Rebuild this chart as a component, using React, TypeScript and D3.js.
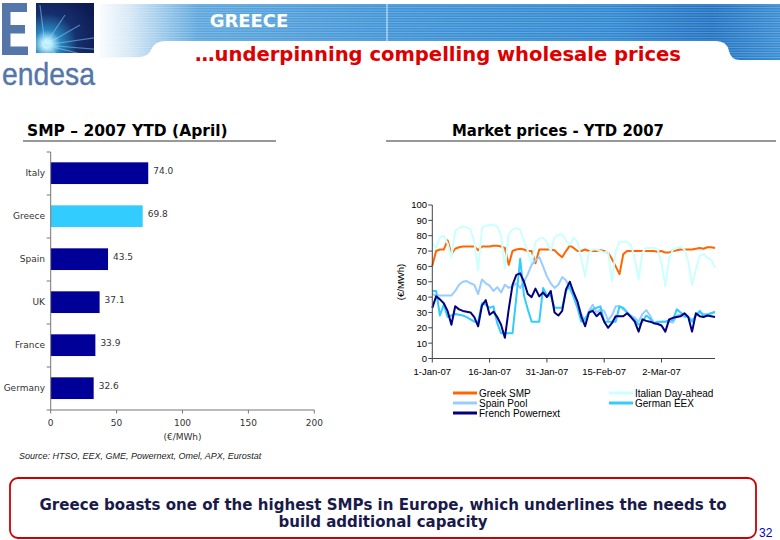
import React from "react";
import * as d3 from "d3";

// ---------- DATA ----------
const barCategories = ["Italy", "Greece", "Spain", "UK", "France", "Germany"];
const barValues = [74.0, 69.8, 43.5, 37.1, 33.9, 32.6];
const barHighlight = "Greece";
const barTicks = [0, 50, 100, 150, 200];

const firstDay = "2007-01-01";
const lastDay = "2007-03-16";
const dateTicks = ["2007-01-01", "2007-01-16", "2007-01-31", "2007-02-15", "2007-03-02"];
const priceTicks = [0, 10, 20, 30, 40, 50, 60, 70, 80, 90, 100];

const greekSMP = [
  60.5, 70, 71, 71, 77, 68, 71.5, 72.5, 73, 73,
  73, 73, 70.5, 73, 73, 73, 73.5, 73.5, 73, 72,
  61, 70, 71, 71.5, 71, 70, 70, 62, 71, 71,
  71, 71, 70.5, 68, 66, 70, 73.5, 72, 70, 70,
  71, 70, 70, 70, 70.5, 70, 69, 65, 60, 55,
  68, 70, 70, 70, 70, 70, 70, 70, 70, 69.5,
  70, 69, 69, 70, 70.5, 71, 71, 71, 71, 71.5,
  72, 71.5, 72.5, 72.5, 72,
];
const italianDayAhead = [
  75, 72, 79, 80, 75, 66, 83, 85, 86, 85.5,
  84, 76, 57.5, 85, 86.5, 87, 87, 86, 80, 58.5,
  81, 84, 85, 84, 77, 70, 61, 76, 78, 78.5,
  76, 70, 79, 80.5, 81, 77, 74, 79, 76, 65,
  53.5, 69, 71, 71, 70, 69, 70, 50, 70, 76,
  76, 76, 74, 65, 51.5, 69, 72, 72, 72, 71,
  62, 47, 65, 71, 72, 73, 71, 63, 48, 58,
  67, 68, 65.5, 64.5, 59,
];
const spainPool = [
  42, 41, 41, 41, 41, 41, 44, 48, 50, 50.5,
  49, 48, 42, 51.5, 49, 47.5, 44, 46.5, 43, 48,
  46, 47, 49, 46, 50, 55, 61, 64, 66, 60,
  53.5, 49, 46, 48, 53, 51, 45, 41, 37, 29,
  24, 31, 35, 30, 32, 31, 25, 28, 34, 34,
  32, 30, 28, 26.5, 24, 29, 31.5, 28, 23, 23,
  24, 24, 24, 23.5, 28, 28.5, 27, 27, 25, 28,
  30, 29, 29, 29.5, 30,
];
const germanEEX = [
  44, 44, 28, 35, 27, 28, 29, 28.5, 28, 27,
  25.5, 24, 24, 36, 35, 33, 34, 23, 16.5, 16.5,
  16.5, 16.5, 40, 65, 41, 32, 24, 24, 24, 46,
  41, 41, 33, 33, 33, 44, 47, 40, 33, 24,
  26, 30, 32, 33, 34, 24, 24, 24, 24, 34,
  33, 30, 27, 25, 22, 24, 28, 26, 23, 24,
  24, 24, 25, 25, 32, 30, 28, 27, 24, 28,
  31, 28, 28, 29.5, 30.5,
];
const frenchPowernext = [
  33, 40.5, 38.5, 36, 31, 22, 34, 32, 31, 30.5,
  30, 27, 21, 34.5, 38, 28.5, 30.5, 27, 22, 13.5,
  32, 48, 54.5, 55.5, 50, 42, 40, 45.5, 40.5, 43,
  40, 44, 30, 28, 31, 45, 50, 43, 37, 27.5,
  21, 30, 31, 27.5, 30, 24, 20, 23, 27.5, 27.5,
  27.5, 29.5, 27, 24, 17.5, 25.5, 24.5, 24, 23, 22.5,
  21.5, 17.5, 25.5, 26.5, 27, 27.5, 29.5, 27, 17.5, 29.5,
  27.5, 27, 28, 27.5, 27,
];

const seriesNames = ["Greek SMP", "Italian Day-ahead", "Spain Pool", "German EEX", "French Powernext"];
const seriesValues = [greekSMP, italianDayAhead, spainPool, germanEEX, frenchPowernext];
const seriesColors = ["#FF6600", "#CCFFFF", "#99CCFF", "#33CCFF", "#000080"];

// ---------- COMPONENT ----------
const VERDANA = "'DejaVu Sans', Verdana, sans-serif";
const ARIAL = "'Liberation Sans', Arial, sans-serif";

export default function App() {
  const parse = d3.timeParse("%Y-%m-%d");
  const d0 = parse(firstDay) as Date;
  const d1 = parse(lastDay) as Date;
  const fmt = d3.timeFormat("%-d-%b-%y");

  // bar chart scales
  const bx = d3.scaleLinear().domain([0, 200]).range([50.7, 314.3]);
  const by = d3.scaleBand<string>().domain(barCategories).range([152, 410]).padding(0);
  const step = by.step();

  // line chart scales
  const lx = d3.scaleTime().domain([d0, d1]).range([432.3, 715]);
  const ly = d3.scaleLinear().domain([0, 100]).range([358.5, 205]);
  const line = (vals: number[]) =>
    d3
      .line<number>()
      .x((_, i) => lx(d3.timeDay.offset(d0, i)))
      .y((v) => ly(v))(vals) as string;

  const legendPos = [
    { x: 453, y: 393 },
    { x: 609, y: 393 },
    { x: 453, y: 403 },
    { x: 609, y: 403 },
    { x: 453, y: 413 },
  ];

  const stripes: number[] = d3.range(5, 60, 2.5);
  const rays = [
    [20, -30], [35, -20], [55, -8], [60, 5], [-5, -40], [40, 10], [25, 20],
  ];

  return (
    <svg
      width={780}
      height={540}
      style={{ position: "absolute", left: 0, top: 0, background: "#fff" }}
      xmlns="http://www.w3.org/2000/svg"
    >
      <defs>
        <linearGradient id="banner" gradientUnits="userSpaceOnUse" x1={95} y1={0} x2={780} y2={0}>
          <stop offset="0" stopColor="#ffffff" />
          <stop offset="0.05" stopColor="#d6e8f6" />
          <stop offset="0.15" stopColor="#5ea7dd" />
          <stop offset="0.45" stopColor="#3f93d6" />
          <stop offset="0.75" stopColor="#3189d1" />
          <stop offset="0.9" stopColor="#2272c2" />
          <stop offset="1" stopColor="#3a8ed2" />
        </linearGradient>
        <radialGradient id="burst" gradientUnits="userSpaceOnUse" cx={47} cy={44} r={55}>
          <stop offset="0" stopColor="#ffffff" />
          <stop offset="0.08" stopColor="#bff0ff" />
          <stop offset="0.25" stopColor="#2a86c0" />
          <stop offset="0.55" stopColor="#15306e" />
          <stop offset="1" stopColor="#0e1a52" />
        </radialGradient>
        <linearGradient id="shadow" x1="0" y1="0" x2="0" y2="1">
          <stop offset="0" stopColor="#c9d6e2" />
          <stop offset="1" stopColor="#ffffff" />
        </linearGradient>
        <clipPath id="logoClip">
          <rect x={36} y={3} width={58} height={50} />
        </clipPath>
        <clipPath id="bannerClip">
          <path d="M100,4 H780 V60 H740 Q731,60 729,51 Q727,41 716,41 H166 Q154,41 151,50 Q148,57 138,57 H100 Z" />
        </clipPath>
      </defs>

      {/* ---------- header ---------- */}
      <path d="M150,44 Q150,60 130,60 H100 V44 Z" fill="url(#shadow)" opacity={0.7} />
      <path d="M728,44 Q730,63 745,63 H780 V44 Z" fill="url(#shadow)" opacity={0.6} />
      <g clipPath="url(#bannerClip)">
        <rect x={100} y={4} width={680} height={57} fill="url(#banner)" />
        {stripes.map((s) => (
          <line key={s} x1={100} x2={780} y1={s} y2={s} stroke="#ffffff" strokeOpacity={0.28} strokeWidth={0.8} />
        ))}
      </g>
      <line x1={387} x2={387} y1={4} y2={41} stroke="#dceefa" strokeWidth={1} />
      <text x={249} y={27} textAnchor="middle" fill="#ffffff" fontFamily={VERDANA} fontWeight="bold" fontSize={18}>
        GREECE
      </text>
      <text
        x={195}
        y={61}
        fill="#dd0000"
        fontFamily={VERDANA}
        fontWeight="bold"
        fontSize={19}
        textLength={486}
        lengthAdjust="spacingAndGlyphs"
      >
        …underpinning compelling wholesale prices
      </text>

      {/* logo */}
      <g fill="#5576a9">
        <rect x={2} y={3} width={8.5} height={52} />
        <rect x={2} y={3} width={25} height={9} />
        <rect x={2} y={25} width={23} height={8.5} />
        <rect x={2} y={46.5} width={26} height={8.5} />
      </g>
      <g clipPath="url(#logoClip)">
        <rect x={36} y={3} width={58} height={50} fill="url(#burst)" />
        {rays.map(([dx, dy], i) => (
          <line key={i} x1={45} y1={45} x2={45 + dx} y2={45 + dy} stroke="#9fe6ff" strokeOpacity={0.45} strokeWidth={1.2} />
        ))}
      </g>
      <text
        x={2}
        y={85}
        fill="#5576a9"
        fontFamily={ARIAL}
        fontSize={32}
        textLength={93}
        lengthAdjust="spacingAndGlyphs"
        stroke="#5576a9"
        strokeWidth={0.4}
      >
        endesa
      </text>

      {/* ---------- section titles ---------- */}
      <text x={27} y={136} fontFamily={VERDANA} fontWeight="bold" fontSize={15.5} fill="#000">
        SMP – 2007 YTD (April)
      </text>
      <line x1={23} x2={276} y1={141} y2={141} stroke="#333" strokeWidth={1} />
      <text x={452} y={136} fontFamily={VERDANA} fontWeight="bold" fontSize={15.5} fill="#000" textLength={212} lengthAdjust="spacingAndGlyphs">
        Market prices - YTD 2007
      </text>
      <line x1={386} x2={776} y1={141} y2={141} stroke="#333" strokeWidth={1} />

      {/* ---------- bar chart ---------- */}
      <g>
        {barCategories.map((c, i) => {
          const y0 = by(c) as number;
          const v = barValues[i];
          return (
            <g key={c}>
              <rect
                x={bx(0)}
                y={y0 + step * 0.24}
                width={bx(v) - bx(0)}
                height={step * 0.505}
                fill={c === barHighlight ? "#33CCFF" : "#000099"}
              />
              <text x={45} y={y0 + step * 0.49 + 3} textAnchor="end" fontFamily={VERDANA} fontSize={9} fill="#333">
                {c}
              </text>
              <text x={bx(v) + 5} y={y0 + step * 0.45 + 3} fontFamily={VERDANA} fontSize={9} fill="#333">
                {v.toFixed(1)}
              </text>
            </g>
          );
        })}
        <line x1={bx(0)} x2={bx(0)} y1={152} y2={410} stroke="#777" strokeWidth={1} />
        {d3.range(barCategories.length + 1).map((i) => (
          <line key={i} x1={bx(0) - 4} x2={bx(0)} y1={152 + i * step} y2={152 + i * step} stroke="#777" />
        ))}
        <line x1={bx(0)} x2={bx(200)} y1={410} y2={410} stroke="#777" strokeWidth={1} />
        {barTicks.map((t) => (
          <g key={t}>
            <line x1={bx(t)} x2={bx(t)} y1={410} y2={413.5} stroke="#777" />
            <text x={bx(t)} y={425.5} textAnchor="middle" fontFamily={VERDANA} fontSize={9} fill="#333">
              {t}
            </text>
          </g>
        ))}
        <text x={bx(100)} y={440} textAnchor="middle" fontFamily={VERDANA} fontSize={9} fill="#333">
          (€/MWh)
        </text>
      </g>

      <text x={19} y={459} fontFamily={ARIAL} fontStyle="italic" fontSize={9} fill="#222">
        Source: HTSO, EEX, GME, Powernext, Omel, APX, Eurostat
      </text>

      {/* ---------- line chart ---------- */}
      <g>
        {seriesValues.map((vals, i) => (
          <path key={seriesNames[i]} d={line(vals)} fill="none" stroke={seriesColors[i]} strokeWidth={2} strokeLinejoin="round" />
        ))}
        <line x1={lx(d0)} x2={lx(d0)} y1={ly(0)} y2={ly(100)} stroke="#444" />
        <line x1={lx(d0)} x2={lx(d1)} y1={ly(0)} y2={ly(0)} stroke="#444" />
        {priceTicks.map((t) => (
          <g key={t}>
            <line x1={lx(d0) - 4} x2={lx(d0)} y1={ly(t)} y2={ly(t)} stroke="#444" />
            <text x={427} y={ly(t) + 3.4} textAnchor="end" fontFamily={ARIAL} fontSize={9.5} fill="#000">
              {t}
            </text>
          </g>
        ))}
        {dateTicks.map((s) => {
          const d = parse(s) as Date;
          return (
            <g key={s}>
              <line x1={lx(d)} x2={lx(d)} y1={ly(0)} y2={ly(0) + 4} stroke="#444" />
              <text x={lx(d)} y={374.5} textAnchor="middle" fontFamily={ARIAL} fontSize={9.5} fill="#000">
                {fmt(d)}
              </text>
            </g>
          );
        })}
        <text
          transform={`translate(404,282) rotate(-90)`}
          textAnchor="middle"
          fontFamily={ARIAL}
          fontSize={9.5}
          fill="#000"
        >
          (€/MWh)
        </text>
        {seriesNames.map((n, i) => (
          <g key={n}>
            <line
              x1={legendPos[i].x}
              x2={legendPos[i].x + 24}
              y1={legendPos[i].y}
              y2={legendPos[i].y}
              stroke={seriesColors[i]}
              strokeWidth={3}
            />
            <text x={legendPos[i].x + 26} y={legendPos[i].y + 3.5} fontFamily={ARIAL} fontSize={10} fill="#000">
              {n}
            </text>
          </g>
        ))}
      </g>

      {/* ---------- conclusion box ---------- */}
      <rect x={10} y={478} width={746} height={60} rx={8} ry={8} fill="#fff" stroke="#cc0000" strokeWidth={1.8} />
      <text
        x={383}
        y={510}
        textAnchor="middle"
        fontFamily={VERDANA}
        fontWeight="bold"
        fontSize={15}
        fill="#1a1a4a"
        textLength={687}
        lengthAdjust="spacingAndGlyphs"
      >
        Greece boasts one of the highest SMPs in Europe, which underlines the needs to
      </text>
      <text x={383} y={527} textAnchor="middle" fontFamily={VERDANA} fontWeight="bold" fontSize={15} fill="#1a1a4a">
        build additional capacity
      </text>
      <text x={759} y={537} fontFamily={ARIAL} fontSize={12} fill="#0000cc">
        32
      </text>
    </svg>
  );
}
